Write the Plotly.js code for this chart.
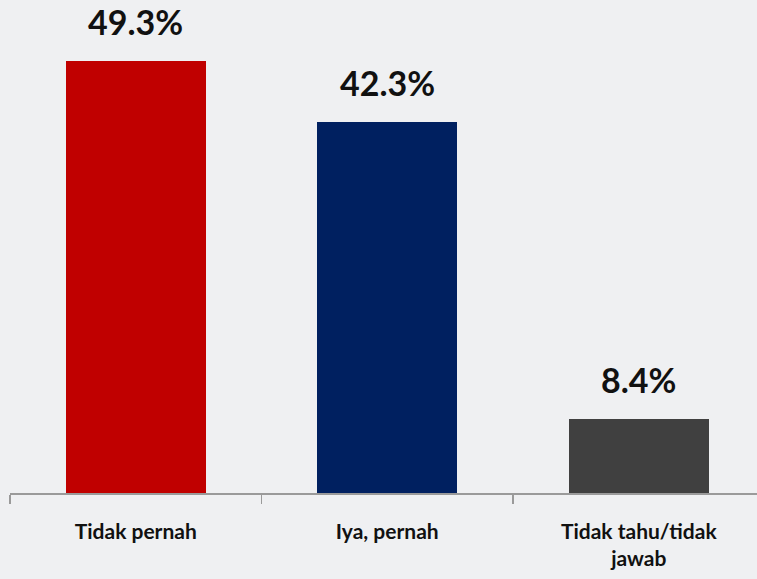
<!DOCTYPE html>
<html><head><meta charset="utf-8">
<script src="https://cdn.plot.ly/plotly-3.0.1.min.js"></script>
<style>html,body{margin:0;padding:0;background:#eff0f2;}#chart{width:757px;height:579px;}</style>
</head><body><div id="chart"></div>
<script>
const categories = ["Tidak pernah", "Iya, pernah", "Tidak tahu/tidak<br>jawab"];
const values = [49.3, 42.3, 8.4];
const valueLabels = ["49.3%", "42.3%", "8.4%"];
const barColors = ["#c00000", "#002060", "#404040"];

const trace = {
  type: "bar", x: categories, y: values,
  marker: {color: barColors, line: {width: 0}},
  width: 0.557, hoverinfo: "skip"
};
const annotations = categories.map((c, i) => ({
  x: c, y: values[i], text: valueLabels[i], showarrow: false,
  xanchor: "center", yanchor: "bottom", yshift: 17,
  font: {family: "Lato, 'Open Sans', sans-serif", size: 34, color: "#111111", weight: 700}
}));
const layout = {
  width: 757, height: 579,
  margin: {l: 10, r: 0, t: 0, b: 86},
  paper_bgcolor: "#eff0f2", plot_bgcolor: "rgba(0,0,0,0)",
  showlegend: false,
  xaxis: {
    type: "category", range: [-0.5, 2.47],
    showline: true, linecolor: "#9a9a9a", linewidth: 1.5,
    ticks: "outside", tickson: "boundaries", ticklen: 9, tickcolor: "#9a9a9a", tickwidth: 1.5,
    ticklabelstandoff: 19,
    tickfont: {family: "Lato, 'Open Sans', sans-serif", size: 21, color: "#111111", weight: 700},
    showgrid: false, zeroline: false, fixedrange: true
  },
  yaxis: {range: [0, 56.26], visible: false, showgrid: false, zeroline: false, fixedrange: true},
  annotations: annotations,
  bargap: 0
};
Plotly.newPlot("chart", [trace], layout, {displayModeBar: false, staticPlot: true});
</script></body></html>
